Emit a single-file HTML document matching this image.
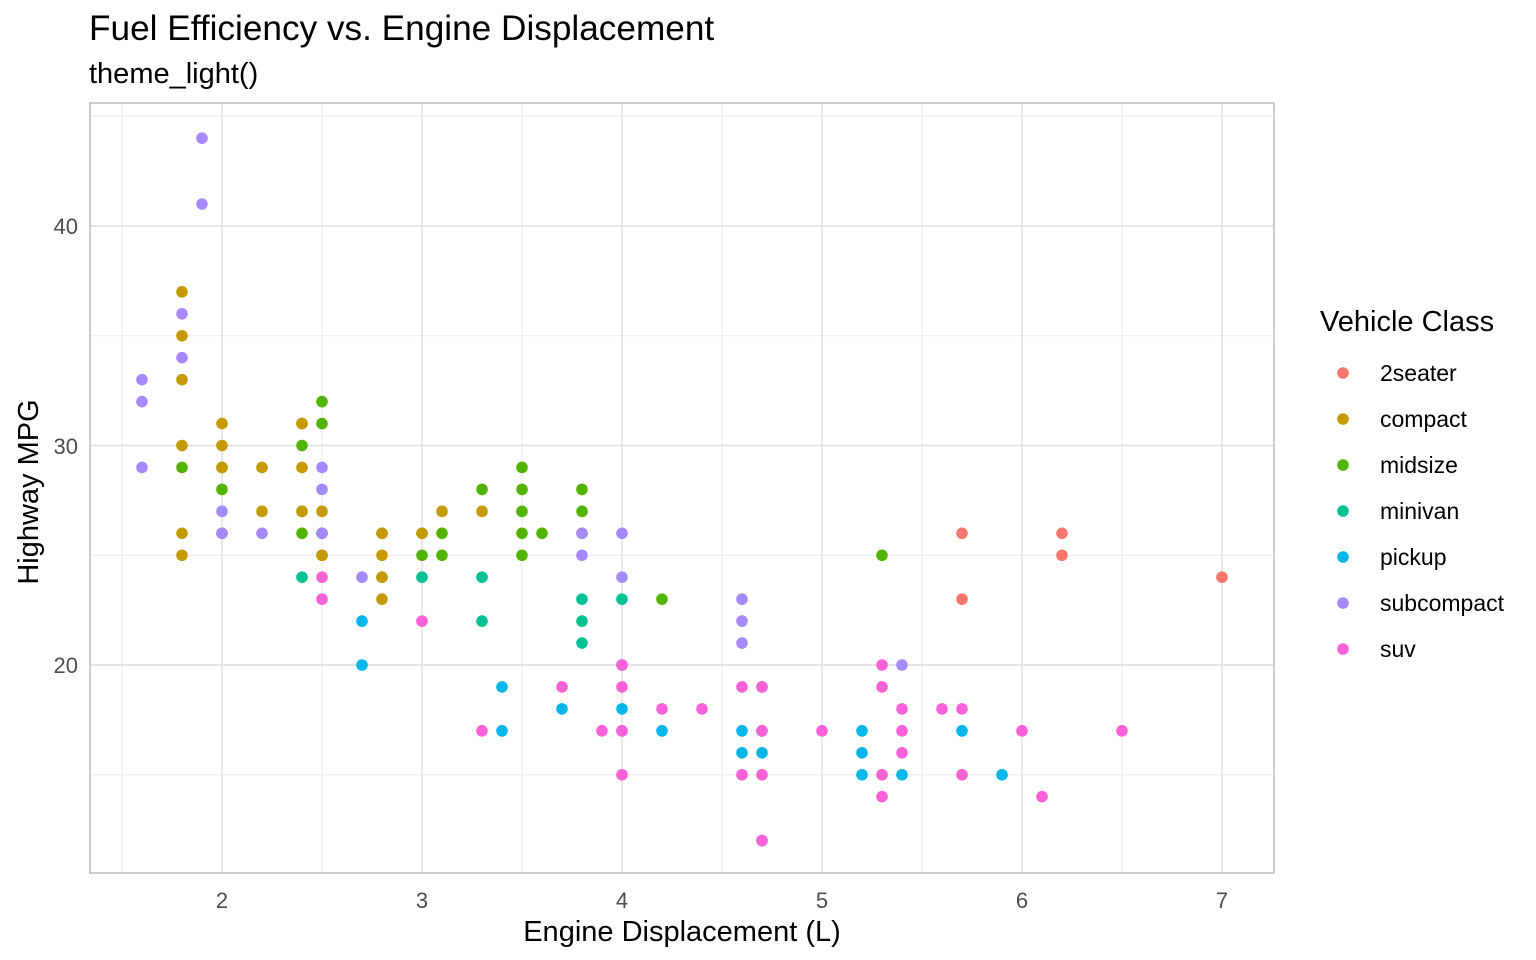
<!DOCTYPE html>
<html><head><meta charset="utf-8"><style>
html,body{margin:0;padding:0;background:#fff;}
svg{display:block;font-family:"Liberation Sans",Arial,sans-serif;}
</style></head><body>
<svg id="s" width="1536" height="960" viewBox="0 0 1536 960" xmlns="http://www.w3.org/2000/svg">
<rect width="1536" height="960" fill="#fff"/>
<text x="89" y="40" font-size="35.2" fill="#000">Fuel Efficiency vs. Engine Displacement</text>
<text x="89" y="83" font-size="29" fill="#000">theme_light()</text>
<g id="grid"></g>
<rect x="90" y="103" width="1184" height="770" fill="none" stroke="#b3b3b3" stroke-width="1.3"/>
<g id="pts"></g>
<g font-size="22" fill="#4d4d4d" text-anchor="middle">
<text x="222" y="908">2</text><text x="422" y="908">3</text><text x="622" y="908">4</text>
<text x="822" y="908">5</text><text x="1022" y="908">6</text><text x="1222" y="908">7</text>
</g>
<g font-size="22" fill="#4d4d4d" text-anchor="end">
<text x="78" y="673">20</text><text x="78" y="454">30</text><text x="78" y="234">40</text>
</g>
<text x="682" y="941" font-size="29" text-anchor="middle">Engine Displacement (L)</text>
<text transform="translate(38,492) rotate(-90)" font-size="29" text-anchor="middle">Highway MPG</text>
<text x="1320" y="331" font-size="29">Vehicle Class</text>
<g id="leg" font-size="23"></g>
</svg>
<script>
var NS="http://www.w3.org/2000/svg";
function X(v){return 222+(v-2)*200;}
function Y(v){return 665-(v-20)*21.95;}
function el(p,t,a){var e=document.createElementNS(NS,t);for(var k in a)e.setAttribute(k,a[k]);p.appendChild(e);return e;}
var g=document.getElementById("grid");
[1.5,2.5,3.5,4.5,5.5,6.5].forEach(function(v){el(g,"line",{x1:X(v),x2:X(v),y1:103,y2:873,stroke:"#ebebeb","stroke-width":1});});
[15,25,35,45].forEach(function(v){el(g,"line",{x1:90,x2:1274,y1:Y(v),y2:Y(v),stroke:"#ebebeb","stroke-width":1});});
[2,3,4,5,6,7].forEach(function(v){el(g,"line",{x1:X(v),x2:X(v),y1:103,y2:873,stroke:"#dedede","stroke-width":1.4});});
[20,30,40].forEach(function(v){el(g,"line",{x1:90,x2:1274,y1:Y(v),y2:Y(v),stroke:"#dedede","stroke-width":1.4});});
var C={"2seater":"#F8766D",compact:"#C49A00",midsize:"#53B400",minivan:"#00C094",pickup:"#00B6EB",subcompact:"#A58AFF",suv:"#FB61D7"};
var D={
"2seater":[[5.7,26],[5.7,23],[6.2,26],[6.2,25],[7,24]],
compact:[[1.8,37],[1.8,35],[1.8,33],[1.8,30],[1.8,26],[1.8,25],[2,31],[2,30],[2,29],[2,26],[2.2,29],[2.2,27],[2.4,31],[2.4,29],[2.4,27],[2.5,27],[2.5,25],[2.5,26],[2.8,26],[2.8,25],[2.8,24],[2.8,23],[3,26],[3.1,27],[3.3,27]],
midsize:[[1.8,29],[2,29],[2,28],[2,26],[2.4,31],[2.4,30],[2.4,27],[2.4,26],[2.5,32],[2.5,31],[2.5,26],[2.5,25],[2.8,26],[2.8,24],[3,26],[3,25],[3.1,26],[3.1,25],[3.3,28],[3.5,29],[3.5,28],[3.5,27],[3.5,26],[3.5,25],[3.6,26],[3.8,28],[3.8,27],[3.8,26],[4.2,23],[5.3,25]],
minivan:[[2.4,24],[3,24],[3.3,24],[3.3,22],[3.8,23],[3.8,22],[3.8,21],[4,23]],
pickup:[[2.7,22],[2.7,20],[3.4,19],[3.4,17],[3.7,18],[4,20],[4,18],[4,17],[4.2,17],[4.6,17],[4.6,16],[4.7,19],[4.7,17],[4.7,16],[4.7,12],[5.2,17],[5.2,16],[5.2,15],[5.4,15],[5.7,17],[5.9,15]],
subcompact:[[1.6,33],[1.6,32],[1.6,29],[1.8,36],[1.8,34],[1.9,44],[1.9,41],[2,27],[2,26],[2.2,26],[2.5,29],[2.5,28],[2.5,26],[2.7,24],[3.8,26],[3.8,25],[4,26],[4,24],[4.6,23],[4.6,22],[4.6,21],[5.4,20]],
suv:[[2.5,24],[2.5,23],[3,22],[3.3,17],[3.7,19],[3.9,17],[4,20],[4,19],[4,17],[4,15],[4.2,18],[4.4,18],[4.6,19],[4.6,15],[4.7,19],[4.7,17],[4.7,15],[4.7,12],[5,17],[5.3,20],[5.3,19],[5.3,15],[5.3,14],[5.4,18],[5.4,17],[5.4,16],[5.6,18],[5.7,18],[5.7,15],[6,17],[6.1,14],[6.5,17]]};
var p=document.getElementById("pts");
["midsize","compact","subcompact","minivan","2seater","pickup","suv"].forEach(function(k){
D[k].forEach(function(d){el(p,"circle",{cx:X(d[0]),cy:Y(d[1]),r:5.8,fill:C[k]});});});
var l=document.getElementById("leg");
Object.keys(C).forEach(function(k,i){var y=373+i*46;
el(l,"circle",{cx:1343,cy:y,r:5.8,fill:C[k]});
var t=el(l,"text",{x:1380,y:y+8,fill:"#000"});t.textContent=k;});
</script>
</body></html>
